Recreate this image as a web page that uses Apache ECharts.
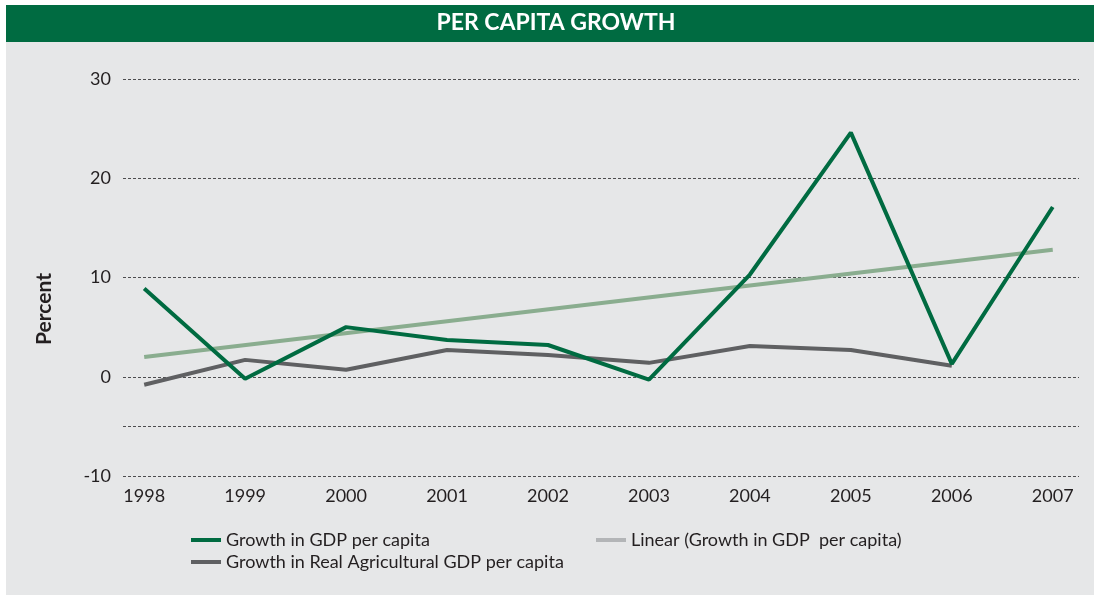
<!DOCTYPE html>
<html>
<head>
<meta charset="utf-8">
<script src="https://cdn.jsdelivr.net/npm/echarts@6/dist/echarts.min.js"></script>
<style>
  html, body { margin: 0; padding: 0; background: #ffffff; }
  #chart { width: 1094px; height: 595px; }
</style>
</head>
<body>
<div id="chart"></div>
<script>
// Annual growth rates, percent
const years = [1998, 1999, 2000, 2001, 2002, 2003, 2004, 2005, 2006, 2007];
const gdpGrowth = [8.9, -0.2, 5.0, 3.7, 3.2, -0.3, 10.3, 24.6, 1.3, 17.1];
const agriGrowth = [-0.8, 1.7, 0.7, 2.7, 2.2, 1.4, 3.1, 2.7, 1.1, null];
// Linear trend of GDP per capita growth, end points
const trendYears = [1998, 2007];
const trendValues = [2.0, 12.8];
const yTicks = [-10, 0, 10, 20, 30];

const FONT = 'Lato, "Open Sans", sans-serif';
const toPairs = (xs, ys) => xs.map((x, i) => [x, ys[i]]).filter(p => p[1] !== null);

const chart = echarts.init(document.getElementById('chart'), null, { renderer: 'canvas' });

const legendText = { fontSize: 18, color: '#231f20', fontFamily: FONT };

chart.setOption({
  animation: false,
  backgroundColor: '#ffffff',
  textStyle: { fontFamily: FONT, color: '#231f20' },
  graphic: [
    { type: 'rect', z: -10, shape: { x: 6, y: 42, width: 1088, height: 553 }, style: { fill: '#e6e7e8' } },
    { type: 'rect', z: -10, shape: { x: 6, y: 5, width: 1088, height: 37 }, style: { fill: '#006b41' } },
    {
      type: 'text', x: 556, y: 23,
      style: {
        text: 'PER CAPITA GROWTH', fill: '#ffffff', font: 'bold 23px ' + FONT,
        align: 'center', verticalAlign: 'middle'
      }
    },
    {
      type: 'text', rotation: Math.PI / 2, x: 44, y: 309,
      style: {
        text: 'Percent', fill: '#231f20', font: 'bold 21px ' + FONT,
        align: 'center', verticalAlign: 'middle'
      }
    }
  ],
  grid: { left: 123, right: 15, top: 79, bottom: 119, containLabel: false },
  xAxis: {
    type: 'value',
    min: 1997.79,
    max: 2007.26,
    axisLine: { show: false },
    axisTick: { show: false },
    splitLine: { show: false },
    axisLabel: {
      customValues: years,
      formatter: v => String(v),
      color: '#231f20',
      fontSize: 18,
      fontFamily: FONT,
      margin: 11
    }
  },
  yAxis: {
    type: 'value',
    min: yTicks[0],
    max: yTicks[yTicks.length - 1],
    interval: 10,
    axisLine: { show: false },
    axisTick: { show: false },
    axisLabel: { color: '#231f20', fontSize: 18, fontFamily: FONT, margin: 12 },
    splitLine: { show: true, lineStyle: { color: '#4d4d4f', type: [3, 2], width: 1 } }
  },
  legend: [
    {
      left: 191, top: 531, padding: 0, itemWidth: 30, itemHeight: 4, icon: 'rect',
      textStyle: legendText,
      data: [{ name: 'Growth in GDP per capita' }]
    },
    {
      left: 596, top: 531, padding: 0, itemWidth: 30, itemHeight: 4, icon: 'rect',
      textStyle: legendText,
      data: [{ name: 'Linear (Growth in GDP  per capita)', itemStyle: { color: '#b3b5b7' } }]
    },
    {
      left: 191, top: 553, padding: 0, itemWidth: 30, itemHeight: 4, icon: 'rect',
      textStyle: legendText,
      data: [{ name: 'Growth in Real Agricultural GDP per capita' }]
    }
  ],
  series: [
    {
      name: 'Linear (Growth in GDP  per capita)',
      type: 'line',
      data: toPairs(trendYears, trendValues),
      showSymbol: false,
      symbol: 'none',
      lineStyle: { color: '#8aad8f', width: 4 },
      itemStyle: { color: '#8aad8f' },
      z: 1,
      markLine: {
        silent: true,
        symbol: 'none',
        label: { show: false },
        lineStyle: { color: '#4d4d4f', type: [3, 2], width: 1 },
        data: [{ yAxis: -5 }]
      }
    },
    {
      name: 'Growth in Real Agricultural GDP per capita',
      type: 'line',
      data: toPairs(years, agriGrowth),
      showSymbol: false,
      symbol: 'none',
      lineStyle: { color: '#5f6062', width: 4 },
      itemStyle: { color: '#5f6062' },
      z: 2
    },
    {
      name: 'Growth in GDP per capita',
      type: 'line',
      data: toPairs(years, gdpGrowth),
      showSymbol: false,
      symbol: 'none',
      lineStyle: { color: '#006b41', width: 4 },
      itemStyle: { color: '#006b41' },
      z: 3
    }
  ]
});
</script>
</body>
</html>
